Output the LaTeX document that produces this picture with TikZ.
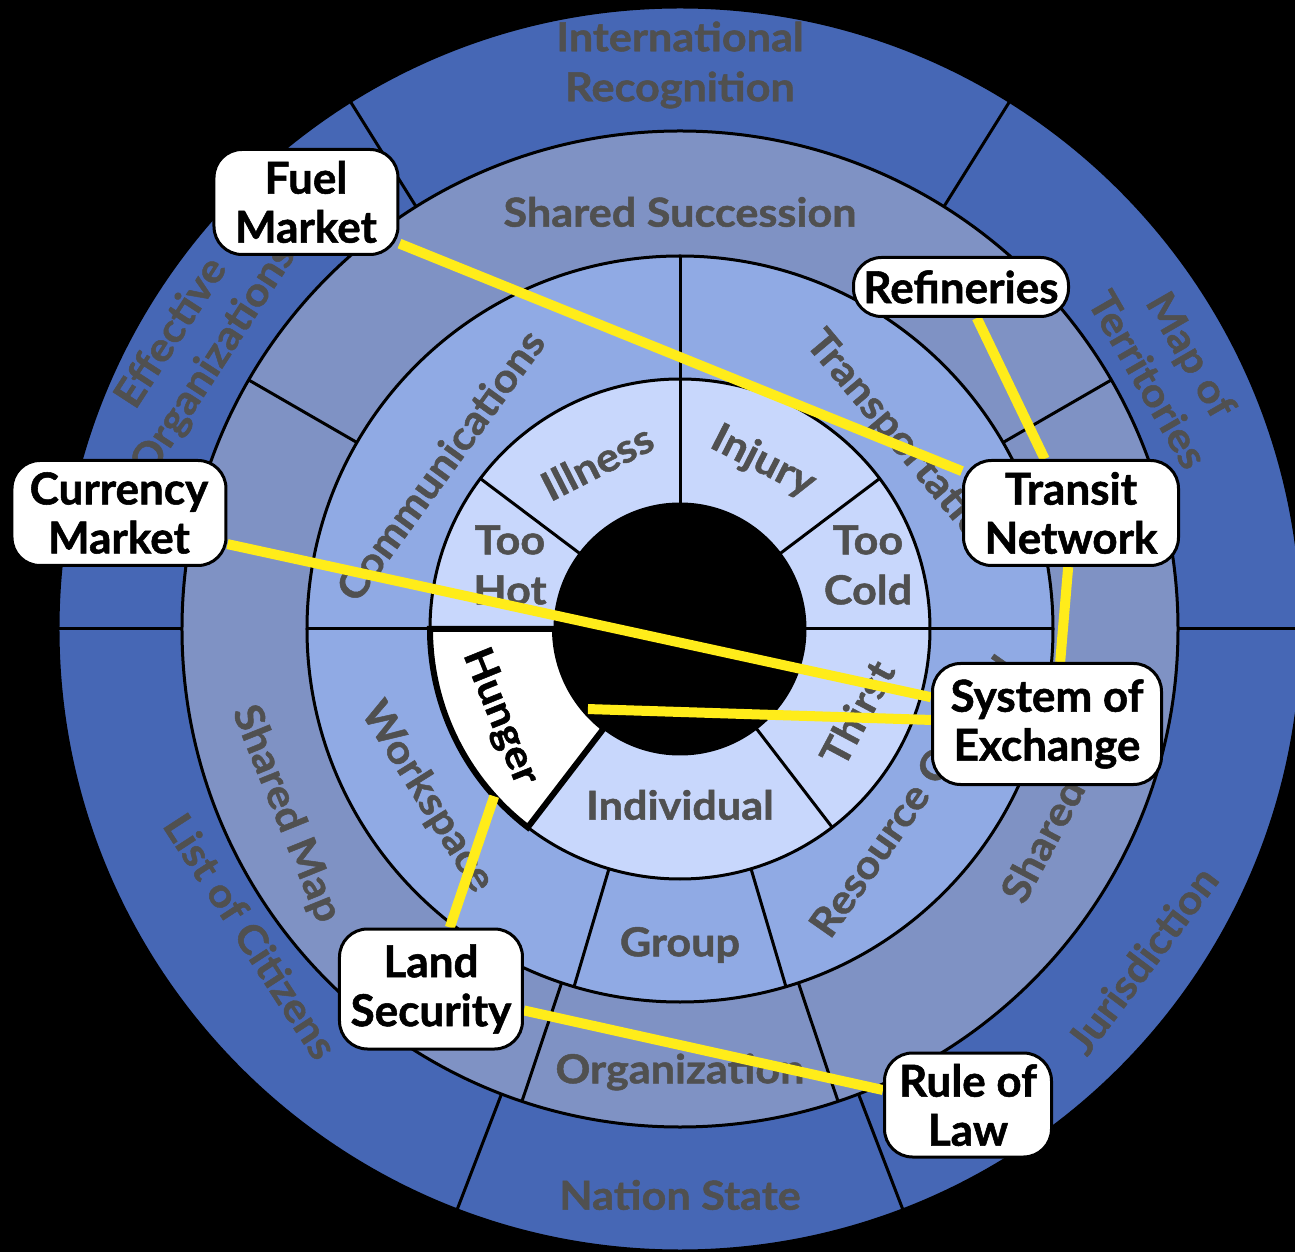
\documentclass[tikz,border=0pt]{standalone}
\usepackage{fontspec}
\setmainfont{Lato}
\newfontfamily\lblfont{Lato}[FakeStretch=1.08, FakeBold=1.2]
\newfontfamily\boxfont{Lato}[FakeBold=1.2]
\definecolor{ringA}{RGB}{70,103,181}
\definecolor{ringB}{RGB}{127,146,196}
\definecolor{ringC}{RGB}{144,170,228}
\definecolor{ringD}{RGB}{200,215,252}
\definecolor{labelgray}{RGB}{80,80,80}
\definecolor{yellowline}{RGB}{255,236,26}
\pgfdeclarelayer{base}
\pgfdeclarelayer{links}
\pgfsetlayers{base,links,main}
\begin{document}
\begin{tikzpicture}[x=1pt,y=1pt,
  ringline/.style={draw=black, line width=3pt},
  lbl/.style={text=labelgray, font=\lblfont\fontsize{40}{50}\selectfont\bfseries, align=center, inner sep=0pt},
  box/.style={draw=black, line width=3pt, fill=white, rounded corners=28pt, align=center,
    font=\boxfont\fontsize{44}{49}\selectfont\bfseries, inner sep=0pt, text=black},
  link/.style={draw=yellowline, line width=10pt}]
\begin{pgfonlayer}{base}
\fill[black] (-680,-623) rectangle (615,629);
\useasboundingbox (-680,-623) rectangle (615,629);
% rings
\fill[ringA] (0,0) circle[radius=622pt];
\fill[ringB] (0,0) circle[radius=498pt];
\fill[ringC] (0,0) circle[radius=373pt];
\fill[ringD] (0,0) circle[radius=250pt];
\fill[black] (0,0) circle[radius=125pt];
\foreach \a in {0,58,122,180,249,291} \draw[ringline] (\a:498pt) -- (\a:622pt);
\foreach \a in {30,150,251.5,288.5} \draw[ringline] (\a:373pt) -- (\a:498pt);
\foreach \a in {0,90,180,253.5,286.5} \draw[ringline] (\a:250pt) -- (\a:373pt);
\foreach \a in {0,37,90,143,180,232.5,307.5} \draw[ringline] (\a:125pt) -- (\a:250pt);
\foreach \r in {125pt,250pt,373pt,498pt,622pt} \draw[ringline] (0,0) circle[radius=\r];
% Hunger sector
\filldraw[fill=white, draw=black, line width=6pt] (180:125pt) -- (180:250pt)
  arc[start angle=180, end angle=232.5, radius=250pt] -- (232.5:125pt)
  arc[start angle=232.5, end angle=180, radius=125pt] -- cycle;
% labels
\node[lbl] (intl) at (0,564) {International\\Recognition};
\node[lbl] (succ) at (0,417) {Shared Succession};
\node[lbl] (nation) at (0,-566) {Nation State};
\node[lbl] (orgn) at (0,-443) {Organization};
\node[lbl] (group) at (0,-316) {Group};
\node[lbl] (indiv) at (0,-176) {Individual};
\node[lbl] (hot) at (-170,64) {Too\\Hot};
\node[lbl] (cold) at (188,64) {Too\\Cold};
\node[lbl, rotate=27] (ill) at (-83,167) {Illness};
\node[lbl, rotate=-27] (inj) at (83,167) {Injury};
\node[lbl, rotate=62] (thirst) at (177,-84) {Thirst};
\node[lbl, text=black, rotate=-68] (hunger) at (-180,-88) {Hunger};
\node[lbl, rotate=54] (comm) at (-240,164) {Communications};
\node[lbl, rotate=-50, anchor=west] (trans) at (133,293) {Transportation};
\node[lbl, rotate=-58] (work) at (-253,-168) {Workspace};
\node[lbl, rotate=55, anchor=west] (res) at (138,-303) {Resource Control};
\node[lbl, rotate=-68] (smap) at (-394,-185) {Shared Map};
\node[lbl, rotate=62, anchor=west] (shared) at (331,-270) {Shared};
\node[lbl, rotate=57] (eff) at (-487,282) {Effective\\Organizations};
\node[lbl, rotate=-60] (mapt) at (490,262) {Map of\\Territories};
\node[lbl, rotate=-57] (cit) at (-429,-307) {List of Citizens};
\node[lbl, rotate=53] (jur) at (462,-331) {Jurisdiction};
\coordinate (hin) at (221:122pt);
\coordinate (hout) at (222:250pt);
\end{pgfonlayer}
% boxes
\node[box, minimum width=184pt, minimum height=105pt] (fuel) at (-374,427) {Fuel\\Market};
\node[box, minimum width=214pt, minimum height=105pt] (currency) at (-561,116) {Currency\\Market};
\node[box, minimum width=215pt, minimum height=59pt] (refine) at (281,342) {Refineries};
\node[box, minimum width=215pt, minimum height=105pt] (transit) at (391,116) {Transit\\Network};
\node[box, minimum width=229pt, minimum height=121pt] (system) at (367,-95) {System of\\Exchange};
\node[box, minimum width=167pt, minimum height=104pt] (rule) at (288,-476) {Rule of\\Law};
\node[box, minimum width=183pt, minimum height=120pt] (land) at (-249,-360) {Land\\Security};
% links
\begin{pgfonlayer}{links}
\draw[link] (fuel.-24) -- (transit.159);
\draw[link] (refine.-63) -- (transit.116);
\draw[link] (transit.-93) -- (system.78);
\draw[link] (currency.-16) -- (system.167);
\draw[link] (hin) -- (system.178);
\draw[link] (hout) -- (land.73);
\draw[link] (land.-13) -- (rule.170);
\end{pgfonlayer}
\end{tikzpicture}
\end{document}
